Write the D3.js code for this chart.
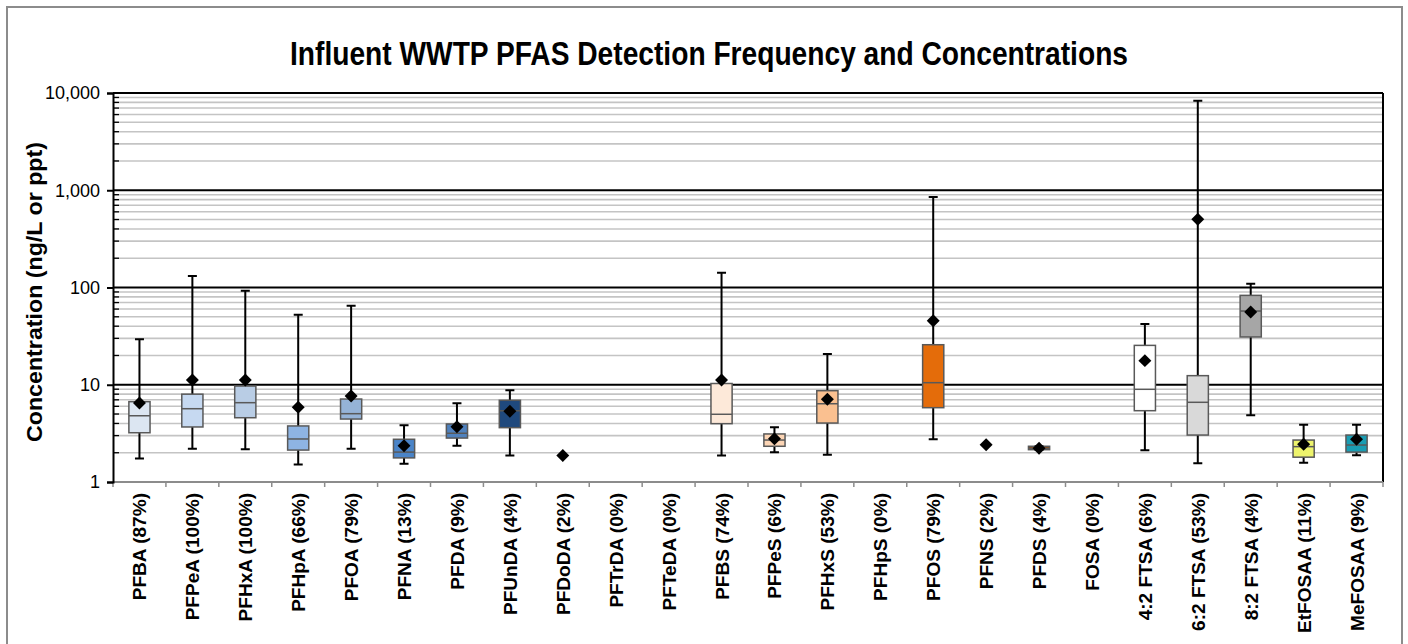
<!DOCTYPE html>
<html>
<head>
<meta charset="utf-8">
<script src="https://cdn.jsdelivr.net/npm/d3@7"></script>
<style>
  body { margin: 0; background: #fff; }
  svg { display: block; }
</style>
</head>
<body>
<div id="chart"></div>
<script>
const categories = ["PFBA", "PFPeA", "PFHxA", "PFHpA", "PFOA", "PFNA", "PFDA", "PFUnDA", "PFDoDA", "PFTrDA", "PFTeDA",
    "PFBS", "PFPeS", "PFHxS", "PFHpS", "PFOS", "PFNS", "PFDS", "FOSA", "4:2 FTSA", "6:2 FTSA", "8:2 FTSA", "EtFOSAA", "MeFOSAA"];
const detection = [87, 100, 100, 66, 79, 13, 9, 4, 2, 0, 0, 74, 6, 53, 0, 79, 2, 4, 0, 6, 53, 4, 11, 9];

// box plot stats (ng/L), null where not detected / not enough data
const whiskerLow  = [1.74, 2.2, 2.17, 1.51, 2.2, 1.54, 2.36, 1.87, null, null, null, 1.87, 2.02, 1.91, null, 2.75, null, 2.15, null, 2.12, 1.56, 4.85, 1.58, 1.88];
const q1          = [3.21, 3.68, 4.58, 2.13, 4.44, 1.77, 2.83, 3.62, null, null, null, 3.98, 2.33, 4.04, null, 5.81, null, 2.15, null, 5.41, 3.04, 31, 1.8, 2.03];
const median      = [4.8, 5.67, 6.54, 2.77, 5.04, 2.03, 3.17, 5.4, null, null, null, 4.97, 2.7, 6.38, null, 10.5, null, 2.22, null, 8.98, 6.6, 57.3, 2.31, 2.4];
const q3          = [6.7, 8.0, 9.7, 3.77, 7.13, 2.75, 3.95, 6.92, null, null, null, 10.3, 3.12, 8.69, null, 25.8, null, 2.33, null, 25.4, 12.4, 83, 2.7, 3.04];
const whiskerHigh = [29.3, 131, 92.7, 52.5, 65, 3.83, 6.45, 8.77, null, null, null, 142, 3.65, 20.7, null, 852, null, 2.33, null, 42.2, 8340, 109, 3.88, 3.88];
const means       = [6.5, 11.2, 11.2, 5.86, 7.66, 2.36, 3.7, 5.33, 1.87, null, null, 11.2, 2.79, 7.08, null, 45.6, 2.42, 2.22, null, 17.7, 503, 56, 2.44, 2.75];

const yTicks = [1, 10, 100, 1000, 10000];

const boxColors = ["#dce6f2", "#c6d9f1", "#b9cde5", "#8eb4e3", "#95b3d7", "#4a84c8", "#4f81bd", "#1f497d", "#ffffff", "#ffffff", "#ffffff",
    "#fde9d9", "#fcd5b5", "#fac090", "#ffffff", "#e46c0a", "#ffffff", "#984807", "#ffffff", "#ffffff", "#d9d9d9", "#a6a6a6", "#eef46c", "#1a9db3"];

const W = 1408, H = 644;
const plot = { left: 113, right: 1383, top: 93, bottom: 482 };

const svg = d3.select("#chart").append("svg")
    .attr("width", W)
    .attr("height", H);

// outer chart border
svg.append("rect")
    .attr("x", 7).attr("y", 7)
    .attr("width", 1395).attr("height", 660)
    .attr("fill", "none")
    .attr("stroke", "#8c8c8c")
    .attr("stroke-width", 2);

svg.append("text")
    .attr("x", 709)
    .attr("y", 65)
    .attr("text-anchor", "middle")
    .attr("font-family", "'Liberation Sans Narrow', 'Arial Narrow', sans-serif")
    .attr("font-weight", "bold")
    .attr("font-size", 33)
    .attr("textLength", 838)
    .attr("lengthAdjust", "spacingAndGlyphs")
    .attr("fill", "#000")
    .text("Influent WWTP PFAS Detection Frequency and Concentrations");

const x = d3.scaleBand()
    .domain(categories)
    .range([plot.left, plot.right])
    .padding(0);

const y = d3.scaleLog()
    .domain([1, 10000])
    .range([plot.bottom, plot.top]);

// minor gridlines
const minorVals = [];
yTicks.slice(0, -1).forEach(d => {
    for (let k = 2; k <= 9; k++) minorVals.push(d * k);
});

svg.append("g").selectAll("line")
    .data(minorVals)
    .join("line")
    .attr("x1", plot.left).attr("x2", plot.right)
    .attr("y1", d => y(d)).attr("y2", d => y(d))
    .attr("stroke", "#c4c4c4")
    .attr("stroke-width", 1.6);

// major gridlines
svg.append("g").selectAll("line")
    .data(yTicks.slice(1))
    .join("line")
    .attr("x1", plot.left).attr("x2", plot.right)
    .attr("y1", d => y(d)).attr("y2", d => y(d))
    .attr("stroke", "#000")
    .attr("stroke-width", 2);

// right border of the plot area
svg.append("line")
    .attr("x1", plot.right).attr("x2", plot.right)
    .attr("y1", plot.top).attr("y2", plot.bottom)
    .attr("stroke", "#000")
    .attr("stroke-width", 2);

// x axis (gray) with ticks between categories
svg.append("line")
    .attr("x1", plot.left).attr("x2", plot.right)
    .attr("y1", plot.bottom).attr("y2", plot.bottom)
    .attr("stroke", "#8c8c8c")
    .attr("stroke-width", 2);

const bounds = categories.map(c => x(c)).concat([x(categories[categories.length - 1]) + x.bandwidth()]);
svg.append("g").selectAll("line")
    .data(bounds)
    .join("line")
    .attr("x1", d => d).attr("x2", d => d)
    .attr("y1", plot.bottom).attr("y2", plot.bottom + 5)
    .attr("stroke", "#8c8c8c")
    .attr("stroke-width", 1.5);

// y axis
const yAxis = svg.append("g")
    .attr("transform", "translate(" + plot.left + ",0)")
    .call(d3.axisLeft(y).tickValues(yTicks).tickFormat(d3.format(",")).tickSize(6).tickPadding(7));
yAxis.select(".domain").attr("stroke", "#000").attr("stroke-width", 2);
yAxis.selectAll(".tick line").attr("stroke", "#000").attr("stroke-width", 2);
yAxis.selectAll(".tick text")
    .attr("font-family", "'Liberation Sans', Arial, sans-serif")
    .attr("font-size", 18)
    .attr("fill", "#000");

// minor ticks inside the axis
svg.append("g").selectAll("line")
    .data(minorVals)
    .join("line")
    .attr("x1", plot.left).attr("x2", plot.left + 6)
    .attr("y1", d => y(d)).attr("y2", d => y(d))
    .attr("stroke", "#000")
    .attr("stroke-width", 1.3);

svg.append("text")
    .attr("transform", "translate(42,292) rotate(-90)")
    .attr("text-anchor", "middle")
    .attr("font-family", "'Liberation Sans', Arial, sans-serif")
    .attr("font-weight", "bold")
    .attr("font-size", 22)
    .attr("textLength", 300)
    .attr("lengthAdjust", "spacingAndGlyphs")
    .attr("fill", "#000")
    .text("Concentration (ng/L or ppt)");

// category labels
svg.append("g").selectAll("text")
    .data(categories)
    .join("text")
    .attr("transform", d => "translate(" + (x(d) + x.bandwidth() / 2 + 7) + "," + (plot.bottom + 11) + ") rotate(-90) scale(1.03,1)")
    .attr("text-anchor", "end")
    .attr("font-family", "'Liberation Sans', Arial, sans-serif")
    .attr("font-weight", "bold")
    .attr("font-size", 18.5)
    .attr("fill", "#000")
    .text((d, i) => d + " (" + detection[i] + "%)");

const stats = categories.map((c, i) => ({
    cat: c, lo: whiskerLow[i], q1: q1[i], med: median[i], q3: q3[i], hi: whiskerHigh[i], mean: means[i], color: boxColors[i]
}));

const boxW = x.bandwidth() * 0.4;
const capW = 9;
const cx = d => x(d.cat) + x.bandwidth() / 2;
const withBox = stats.filter(d => d.q1 != null);

const boxes = svg.append("g");

// whiskers
boxes.selectAll(".whisker")
    .data(withBox)
    .join("path")
    .attr("class", "whisker")
    .attr("d", d => "M" + cx(d) + "," + y(d.hi) + "V" + y(d.q3) +
        "M" + cx(d) + "," + y(d.q1) + "V" + y(d.lo) +
        "M" + (cx(d) - capW / 2) + "," + y(d.hi) + "h" + capW +
        "M" + (cx(d) - capW / 2) + "," + y(d.lo) + "h" + capW)
    .attr("fill", "none")
    .attr("stroke", "#000")
    .attr("stroke-width", 2);

boxes.selectAll(".box")
    .data(withBox)
    .join("rect")
    .attr("class", "box")
    .attr("x", d => cx(d) - boxW / 2)
    .attr("width", boxW)
    .attr("y", d => y(d.q3))
    .attr("height", d => Math.max(y(d.q1) - y(d.q3), 2))
    .attr("fill", d => d.color)
    .attr("stroke", "#595959")
    .attr("stroke-width", 1.5);

boxes.selectAll(".median")
    .data(withBox)
    .join("line")
    .attr("class", "median")
    .attr("x1", d => cx(d) - boxW / 2).attr("x2", d => cx(d) + boxW / 2)
    .attr("y1", d => y(d.med)).attr("y2", d => y(d.med))
    .attr("stroke", "#595959")
    .attr("stroke-width", 1.5);

// means as black diamonds
boxes.selectAll(".mean")
    .data(stats.filter(d => d.mean != null))
    .join("path")
    .attr("class", "mean")
    .attr("d", d3.symbol(d3.symbolSquare, 84))
    .attr("transform", d => "translate(" + cx(d) + "," + y(d.mean) + ") rotate(45)")
    .attr("fill", "#000");
</script>
</body>
</html>
